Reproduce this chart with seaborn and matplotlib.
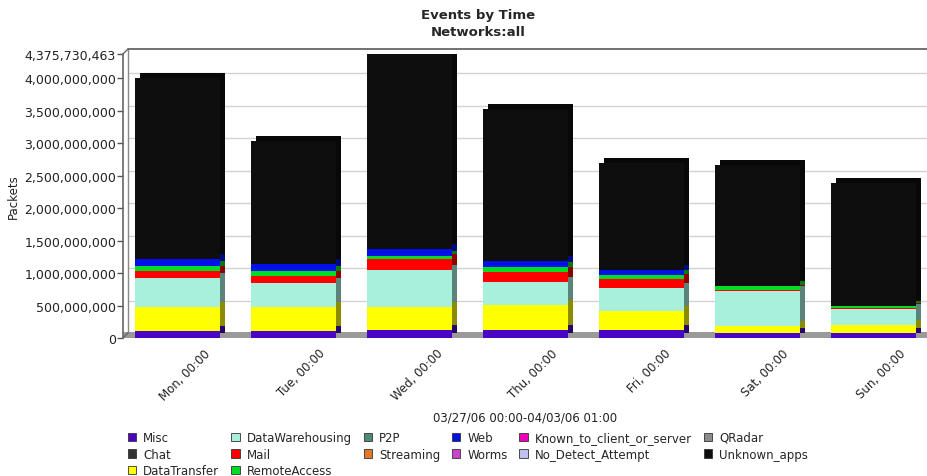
import matplotlib
matplotlib.use("Agg")
import matplotlib.pyplot as plt
import matplotlib.transforms as mtransforms
from matplotlib.patches import Rectangle, Patch
from matplotlib.lines import Line2D
from matplotlib.ticker import FuncFormatter
import matplotlib.colors as mcolors
import numpy as np
import pandas as pd
import seaborn as sns

days = ["Mon, 00:00", "Tue, 00:00", "Wed, 00:00", "Thu, 00:00",
        "Fri, 00:00", "Sat, 00:00", "Sun, 00:00"]

# values in packets
misc            = [110e6, 110e6, 120e6, 118e6, 118e6, 77e6, 77e6]
datatransfer    = [375e6, 360e6, 355e6, 396e6, 293e6, 103e6, 128e6]
datawarehousing = [437e6, 370e6, 570e6, 350e6, 360e6, 540e6, 247e6]
mail            = [113e6, 118e6, 170e6, 154e6, 144e6, 15e6, 5e6]
remoteaccess    = [67e6, 77e6, 50e6, 77e6, 51e6, 67e6, 30e6]
web             = [113e6, 100e6, 110e6, 92e6, 87e6, 0, 0]
unknown_apps    = [2785e6, 1905e6, 3000.73e6, 2343e6, 1647e6, 1868e6, 1903e6]

y_max = 4375730463
y_ticks = [0, 500e6, 1000e6, 1500e6, 2000e6, 2500e6, 3000e6, 3500e6, 4000e6, y_max]

legend_names = ["Misc", "Chat", "DataTransfer", "DataWarehousing", "Mail",
                "RemoteAccess", "P2P", "Streaming", "Web", "Worms",
                "Known_to_client_or_server", "No_Detect_Attempt", "QRadar",
                "Unknown_apps"]
colors = {
    "Misc": "#4a06c4", "Chat": "#333333", "DataTransfer": "#ffff00",
    "DataWarehousing": "#a8efdc", "Mail": "#ff0000", "RemoteAccess": "#00dd22",
    "P2P": "#4f8a74", "Streaming": "#e07a2a", "Web": "#0010e8",
    "Worms": "#cc44cc", "Known_to_client_or_server": "#ee00bb",
    "No_Detect_Attempt": "#c0c0f0", "QRadar": "#8c8c8c", "Unknown_apps": "#0e0e0e",
}

stack = [("Misc", misc), ("DataTransfer", datatransfer),
         ("DataWarehousing", datawarehousing), ("Mail", mail),
         ("RemoteAccess", remoteaccess), ("Web", web),
         ("Unknown_apps", unknown_apps)]

sns.set_theme(style="white")
plt.rcParams["font.family"] = ["DejaVu Sans"]

fig = plt.figure(figsize=(9.28, 4.77), dpi=100)
ax = fig.add_axes([123 / 928, 1 - 339 / 477, (928 - 123) / 928, (339 - 55) / 477])

bottom = np.zeros(len(days))
for name, vals in stack:
    df = pd.DataFrame({"day": days, "v": vals})
    sns.barplot(data=df, x="day", y="v", bottom=bottom.copy(), color=colors[name],
                width=0.74, ax=ax, saturation=1, edgecolor="none", linewidth=0,
                zorder=3)
    bottom = bottom + np.array(vals, dtype=float)

ax.set_xlim(-0.47, 6.47)
ax.set_ylim(0, y_max)

D = 5  # depth in pixels
shift = mtransforms.ScaledTranslation(D / 100, D / 100, fig.dpi_scale_trans)

# 3D extrusion look: shifted darker copies behind each bar segment
for p in list(ax.patches):
    if p.get_height() <= 0:
        continue
    c = np.array(mcolors.to_rgb(p.get_facecolor()))
    shade = tuple(c * 0.55)
    ax.add_patch(Rectangle(p.get_xy(), p.get_width(), p.get_height(),
                           transform=ax.transData + shift, facecolor=shade,
                           edgecolor="none", zorder=2))

# floor
ax.add_patch(Rectangle((0, 0), 1, (D + 1) / 284, transform=ax.transAxes,
                       facecolor="#9a9a9a", edgecolor="none", zorder=1))

# back-wall grid lines
bt = mtransforms.blended_transform_factory(ax.transAxes, ax.transData) + shift
for t in y_ticks[1:-1]:
    ax.add_line(Line2D([0, 1], [t, t], transform=bt, color="#d2d2d2",
                       linewidth=1, zorder=0))
# back wall frame
at = ax.transAxes + shift
ax.add_line(Line2D([0, 1.2], [1, 1], transform=at, color="#666666",
                   linewidth=1.3, zorder=4, clip_on=False))
ax.add_line(Line2D([0, 0], [0, 1], transform=at, color="#888888",
                   linewidth=1, zorder=1, clip_on=False))
for yy in [0, 1]:
    x0, y0 = ax.transAxes.transform((0, yy))
    ax.add_line(Line2D([x0, x0 + D], [y0, y0 + D], transform=None,
                       color="#666666", linewidth=1, zorder=4, clip_on=False))

ax.set_yticks(y_ticks)
ax.yaxis.set_major_formatter(FuncFormatter(lambda v, p: f"{int(round(v)):,}"))
ax.grid(False)
ax.tick_params(axis="y", labelsize=9, length=4, width=1, color="#555555",
               left=True, pad=1, labelcolor="#222222")
ax.tick_params(axis="x", labelsize=8.5, length=0, pad=6, labelcolor="#222222")
lbl_shift = mtransforms.ScaledTranslation(8 / 100, 0, fig.dpi_scale_trans)
for lbl in ax.get_xticklabels():
    lbl.set_rotation(45)
    lbl.set_ha("center")
    lbl.set_transform(lbl.get_transform() + lbl_shift)

ax.spines["left"].set_color("#666666")
ax.spines["left"].set_linewidth(1.2)
for s in ["right", "bottom", "top"]:
    ax.spines[s].set_visible(False)

ax.set_ylabel("Packets", fontsize=8.5, labelpad=3, color="#222222")
ax.set_xlabel("")
fig.text(525 / 928, 1 - 418 / 477, "03/27/06 00:00-04/03/06 01:00",
         ha="center", va="center", fontsize=8.5, color="#222222")

fig.text(478 / 928, 1 - 16 / 477, "Events by Time", ha="center", va="center",
         fontsize=9.5, fontweight="bold")
fig.text(478 / 928, 1 - 32 / 477, "Networks:all", ha="center", va="center",
         fontsize=9.5, fontweight="bold")

handles = [Patch(facecolor=colors[n], edgecolor="#333333", linewidth=0.6)
           for n in legend_names]
fig.legend(handles, legend_names, ncol=6, loc="upper left",
           bbox_to_anchor=(128 / 928, 1 - 432 / 477), frameon=False,
           fontsize=8.5, handlelength=0.7, handleheight=0.7,
           handletextpad=0.6, columnspacing=1.0, labelspacing=0.3,
           borderaxespad=0, borderpad=0)

fig.savefig("out.png", dpi=100)
